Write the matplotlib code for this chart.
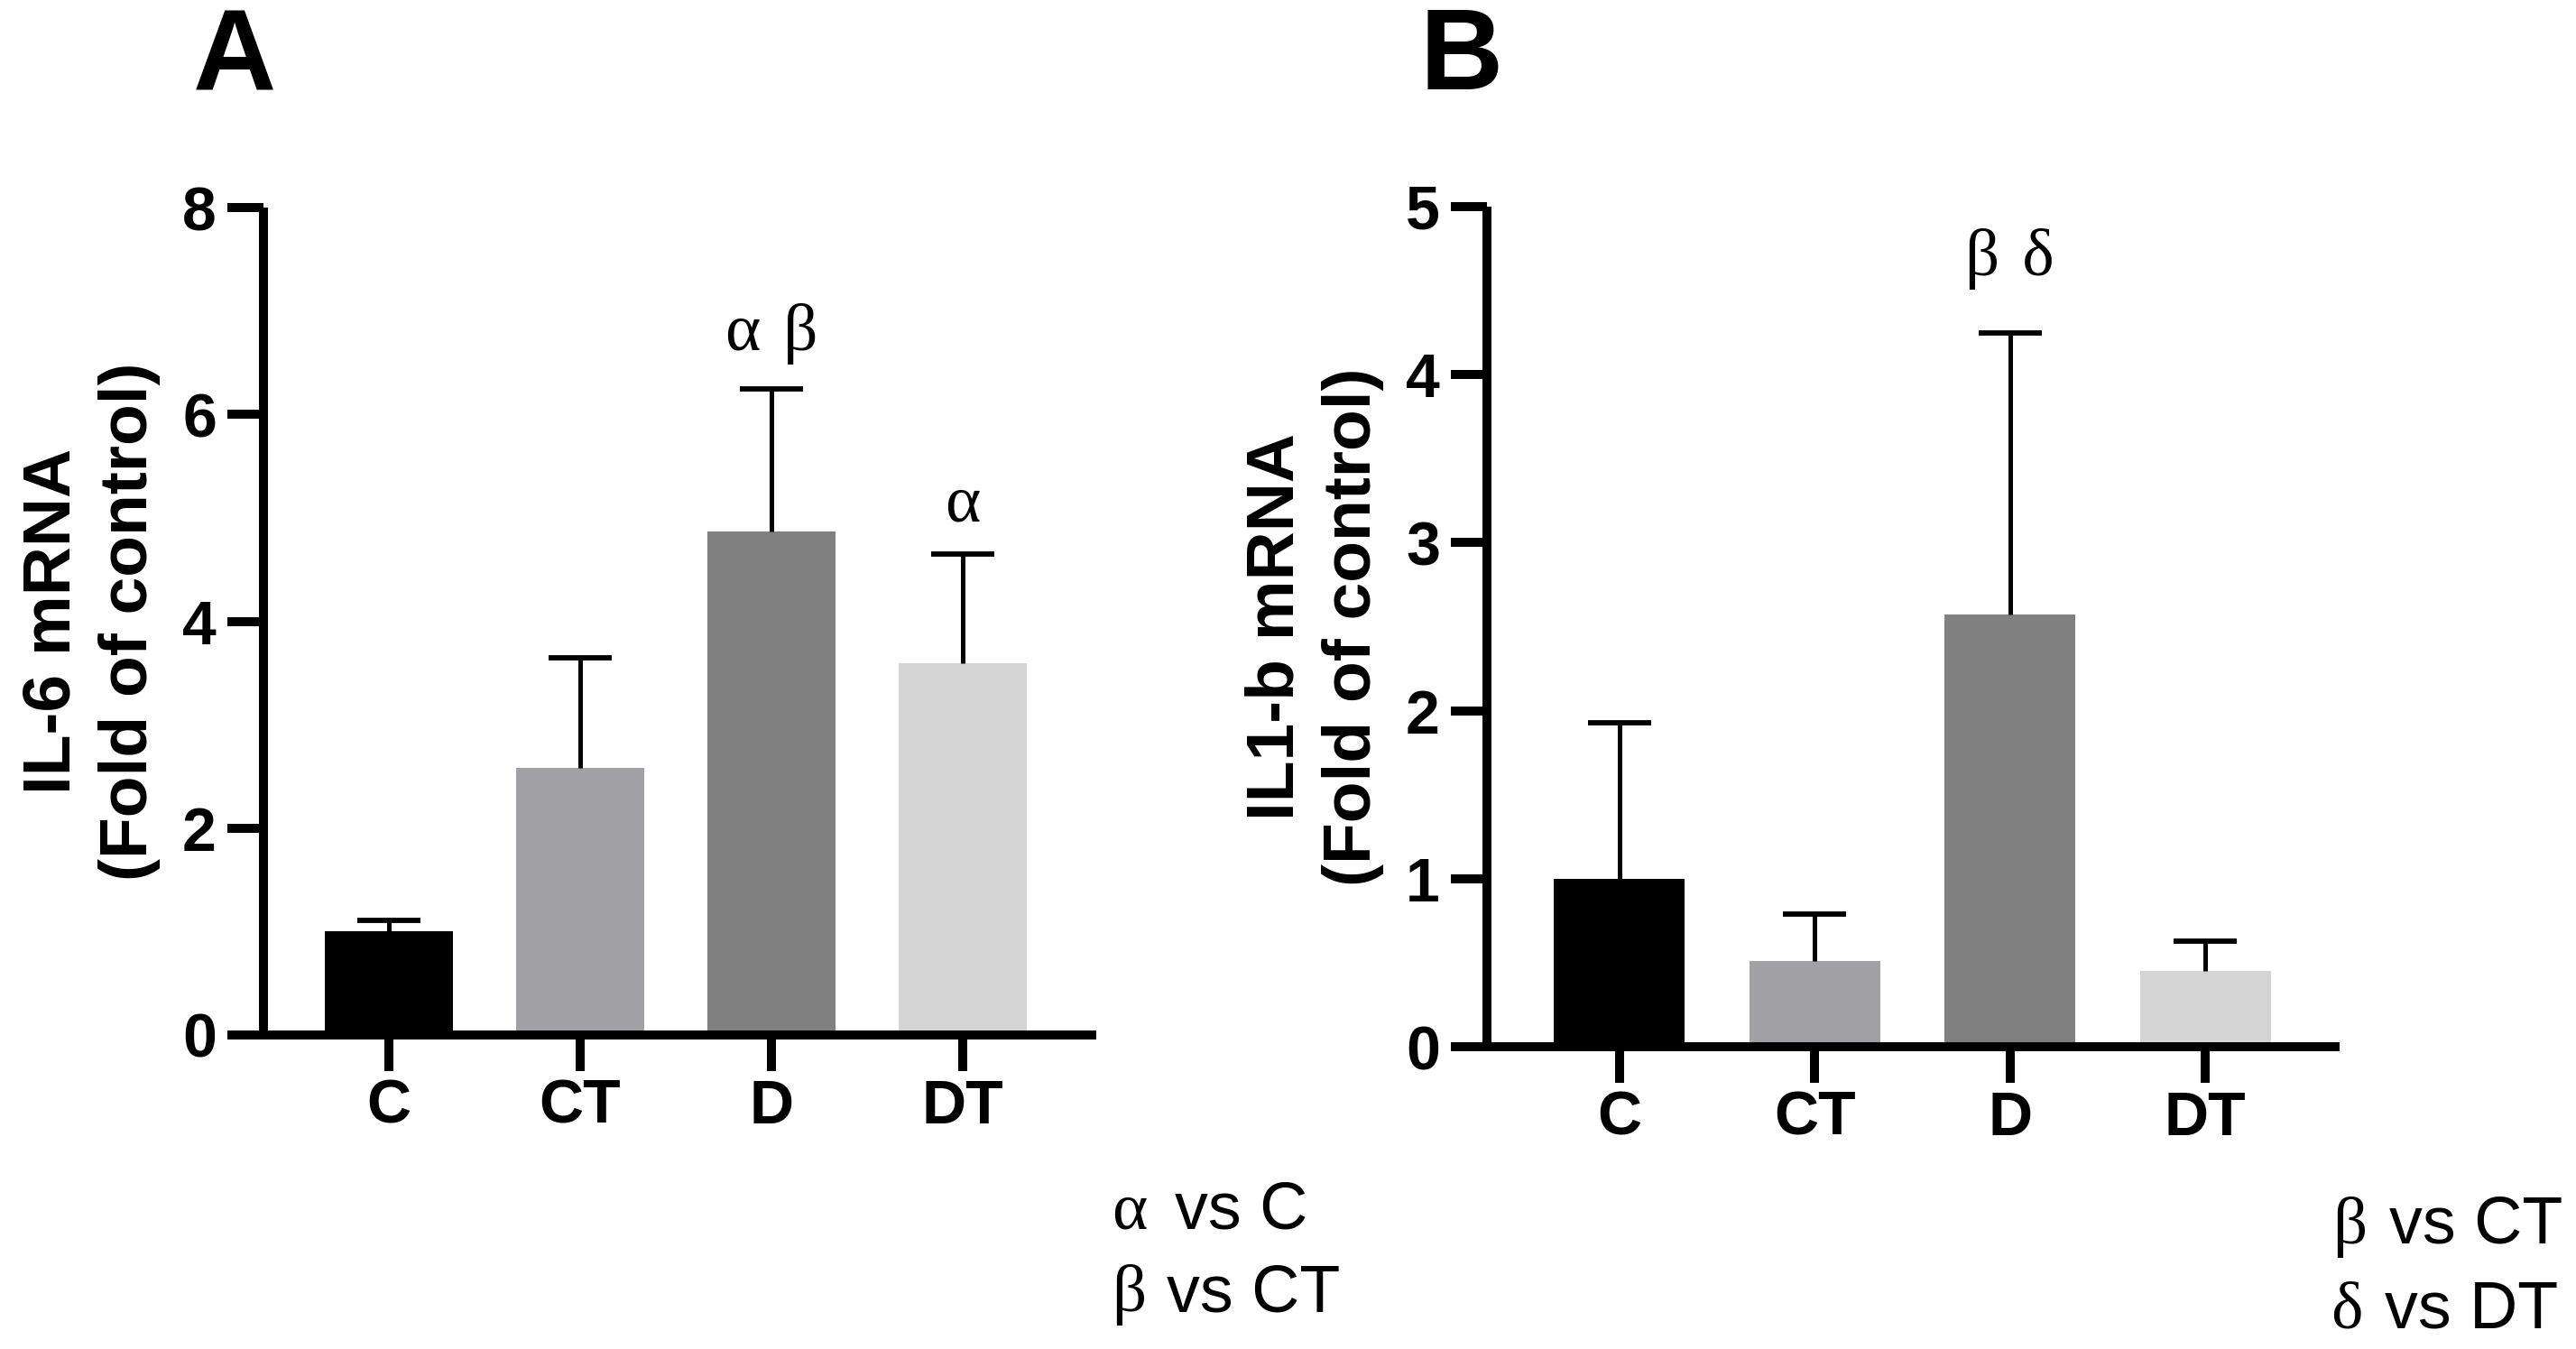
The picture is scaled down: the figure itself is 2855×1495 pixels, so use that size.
import matplotlib
matplotlib.use("Agg")
import matplotlib.pyplot as plt
import numpy as np

# ---------------- data ----------------
groups = ["C", "CT", "D", "DT"]
il6_mean = [1.0, 2.58, 4.87, 3.59]
il6_err = [0.11, 1.07, 1.38, 1.06]
il1b_mean = [1.0, 0.51, 2.57, 0.45]
il1b_err = [0.93, 0.28, 1.68, 0.18]
bar_colors = ["#000000", "#A1A0A5", "#808080", "#D4D4D4"]

il6_ticks = [0, 2, 4, 6, 8]
il1b_ticks = [0, 1, 2, 3, 4, 5]

il6_annot = {"D": "α \u200aβ", "DT": "α"}
il1b_annot = {"D": "β \u200aδ"}

W, H = 2855, 1495
SANS = "Liberation Sans"
SERIF = ["Liberation Serif", "DejaVu Serif"]

fig = plt.figure(figsize=(W / 100, H / 100), dpi=100)


def px_axes(x0, x1, ytop, ybot):
    return fig.add_axes([x0 / W, 1 - ybot / H, (x1 - x0) / W, (ybot - ytop) / H])


def style_axes(ax, ticks, ylabel, label_x):
    for s in ["top", "right"]:
        ax.spines[s].set_visible(False)
    for s in ["left", "bottom"]:
        ax.spines[s].set_linewidth(7.2)
        ax.spines[s].set_capstyle("butt")
    ax.set_yticks(ticks)
    ax.set_ylim(ticks[0], ticks[-1])
    ax.set_xticks(range(len(groups)))
    ax.set_xticklabels(groups)
    ax.tick_params(axis="both", direction="out", length=28.5, width=7.2)
    ax.tick_params(axis="y", pad=9)
    ax.tick_params(axis="x", pad=6)
    for lab in ax.get_xticklabels() + ax.get_yticklabels():
        lab.set_fontfamily(SANS)
        lab.set_fontweight("bold")
        lab.set_fontsize(49)
    ax.set_ylabel(ylabel, fontfamily=SANS, fontweight="bold", fontsize=54,
                  linespacing=1.3)
    ax.yaxis.set_label_coords(label_x, 0.5)


def draw_bars(ax, means, errs, annots, offsets):
    x = list(range(len(groups)))
    ax.bar(x, means, width=0.67, color=bar_colors, zorder=2)
    _, caplines, _ = ax.errorbar(x, means, yerr=[[0] * len(errs), errs],
                                 fmt="none", ecolor="black", elinewidth=3.6,
                                 capsize=25.5, capthick=4.2, zorder=3)
    # keep only the upper caps (one-sided error bars)
    for cl in caplines:
        if np.allclose(cl.get_ydata(), means):
            cl.remove()
    for g, txt in annots.items():
        i = groups.index(g)
        ax.annotate(txt, xy=(i, means[i] + errs[i]), xytext=(0, offsets[g]),
                    textcoords="offset points", ha="center", va="baseline",
                    fontfamily=SERIF, fontsize=54)


# Panel A
axA = px_axes(292, 1215, 230, 1147)
draw_bars(axA, il6_mean, il6_err, il6_annot, {"D": 31, "DT": 26})
axA.set_xlim(-0.656, 3.698)
style_axes(axA, il6_ticks, "IL-6 mRNA\n(Fold of control)", -0.1235)

# Panel B
axB = px_axes(1648, 2593, 229, 1160)
draw_bars(axB, il1b_mean, il1b_err, il1b_annot, {"D": 46})
axB.set_xlim(-0.679, 3.688)
style_axes(axB, il1b_ticks, "IL1-b mRNA\n(Fold of control)", -0.1206)

# Panel letters
fig.text(260 / W, 1 - 101 / H, "A", ha="center", va="baseline",
         fontfamily=SANS, fontweight="bold", fontsize=92)
fig.text(1620 / W, 1 - 99 / H, "B", ha="center", va="baseline",
         fontfamily=SANS, fontweight="bold", fontsize=92)


# Significance keys
def key(xg, xt, y, greek, txt):
    fig.text(xg / W, 1 - y / H, greek, ha="left", va="baseline",
             fontfamily=SERIF, fontsize=54)
    fig.text(xt / W, 1 - y / H, txt, ha="left", va="baseline",
             fontfamily=SANS, fontsize=53)


key(1232, 1302, 1362, "α", "vs C")
key(1232, 1293, 1453, "β", "vs CT")
key(2585, 2648, 1378, "β", "vs CT")
key(2583, 2643, 1472, "δ", "vs DT")

fig.savefig("out.png", dpi=100)
